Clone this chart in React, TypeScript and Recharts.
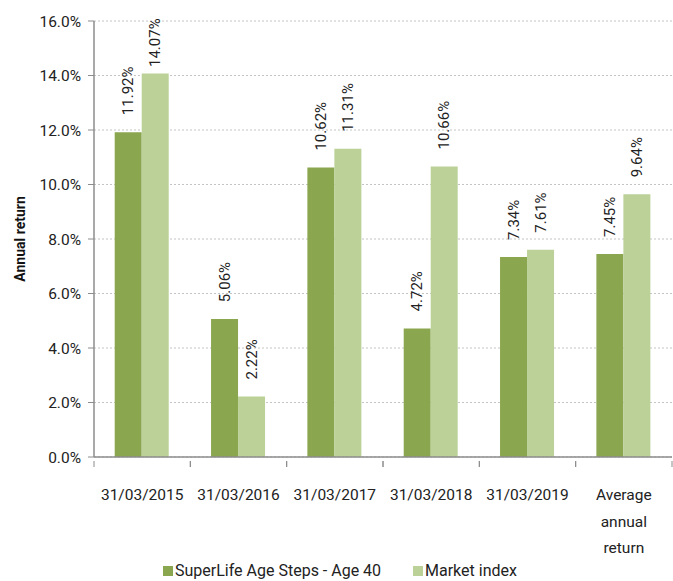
import { Bar, BarChart, CartesianGrid, LabelList, Legend, XAxis, YAxis } from "recharts";

const categories = ["31/03/2015", "31/03/2016", "31/03/2017", "31/03/2018", "31/03/2019", "Average annual return"];
const superLife = [11.92, 5.06, 10.62, 4.72, 7.34, 7.45];
const marketIndex = [14.07, 2.22, 11.31, 10.66, 7.61, 9.64];
const yTicks = [0, 2, 4, 6, 8, 10, 12, 14, 16];

const DARK = "#8aa64e";
const LIGHT = "#bbd197";
const AXIS = "#8c8c8c";
const FONT = "Roboto, 'Open Sans', sans-serif";

const W = 673;
const H = 581;
const LEFT = 94;
const RIGHT = 1;
const TOP = 21;
const BAND = (W - LEFT - RIGHT) / categories.length;

const data = categories.map((name, i) => ({ name, superLife: superLife[i], market: marketIndex[i] }));

const wrap: Record<string, string[]> = { "Average annual return": ["Average", "annual", "return"] };

function CatTick(props: any) {
  const { x, y, payload } = props;
  const lines = wrap[payload.value] ?? [payload.value];
  const axisY = y - 4;
  return (
    <g>
      <line x1={x - BAND / 2} x2={x - BAND / 2} y1={axisY} y2={axisY + 6} stroke={AXIS} />
      <line x1={x + BAND / 2} x2={x + BAND / 2} y1={axisY} y2={axisY + 6} stroke={AXIS} />
      {lines.map((l: string, i: number) => (
        <text key={i} x={x} y={axisY + 39 + i * 26.5} textAnchor="middle" fontSize={15.5} fill="#222" fontFamily={FONT}>
          {l}
        </text>
      ))}
    </g>
  );
}

function BarLabel(props: any) {
  const { x, y, width, value } = props;
  const cx = x + width / 2 + 5;
  const bottom = Math.max(y - 17, TOP + 46);
  return (
    <text
      x={cx}
      y={bottom}
      transform={`rotate(-90 ${cx} ${bottom})`}
      textAnchor="start"
      fontSize={15}
      fill="#222"
      fontFamily={FONT}
    >
      {value.toFixed(2)}%
    </text>
  );
}

function LegendBox() {
  const items = [
    { label: "SuperLife Age Steps - Age 40", color: DARK, left: 163 },
    { label: "Market index", color: LIGHT, left: 413 },
  ];
  return (
    <div style={{ position: "relative", height: 22, fontFamily: FONT, fontSize: 16, lineHeight: "18px", color: "#222" }}>
      {items.map((it) => (
        <div key={it.label} style={{ position: "absolute", left: it.left, top: 3, display: "flex", alignItems: "center" }}>
          <span style={{ width: 10, height: 10, background: it.color, display: "inline-block", marginRight: 2 }} />
          <span>{it.label}</span>
        </div>
      ))}
    </div>
  );
}

export default function App() {
  return (
    <div style={{ position: "fixed", left: 0, top: 0, background: "#fff" }}>
      <BarChart width={W} height={H} data={data} margin={{ top: TOP, right: RIGHT, left: 0, bottom: 0 }} barCategoryGap="21.5%" barGap={0}>
        <CartesianGrid vertical={false} stroke="#c4c4c4" strokeDasharray="2 2" />
        <YAxis
          width={LEFT}
          domain={[0, 16]}
          ticks={yTicks}
          interval={0}
          tickFormatter={(v) => `${v.toFixed(1)}%`}
          tick={{ fill: "#222", fontSize: 15.5, fontFamily: FONT }}
          axisLine={{ stroke: AXIS, strokeWidth: 1.5 }}
          tickLine={{ stroke: AXIS }}
          tickSize={6}
          tickMargin={7}
          label={{
            value: "Annual return",
            angle: -90,
            position: "insideLeft",
            offset: 20,
            style: { fontWeight: 700, fontSize: 14, fill: "#111", fontFamily: FONT, textAnchor: "middle" },
          }}
        />
        <XAxis
          dataKey="name"
          height={102}
          interval={0}
          tickLine={false}
          axisLine={{ stroke: AXIS, strokeWidth: 1.5 }}
          tick={<CatTick />}
        />
        <Legend verticalAlign="bottom" content={() => <LegendBox />} />
        <Bar dataKey="superLife" name="SuperLife Age Steps - Age 40" fill={DARK} isAnimationActive={false}>
          <LabelList dataKey="superLife" content={<BarLabel />} />
        </Bar>
        <Bar dataKey="market" name="Market index" fill={LIGHT} isAnimationActive={false}>
          <LabelList dataKey="market" content={<BarLabel />} />
        </Bar>
      </BarChart>
    </div>
  );
}
